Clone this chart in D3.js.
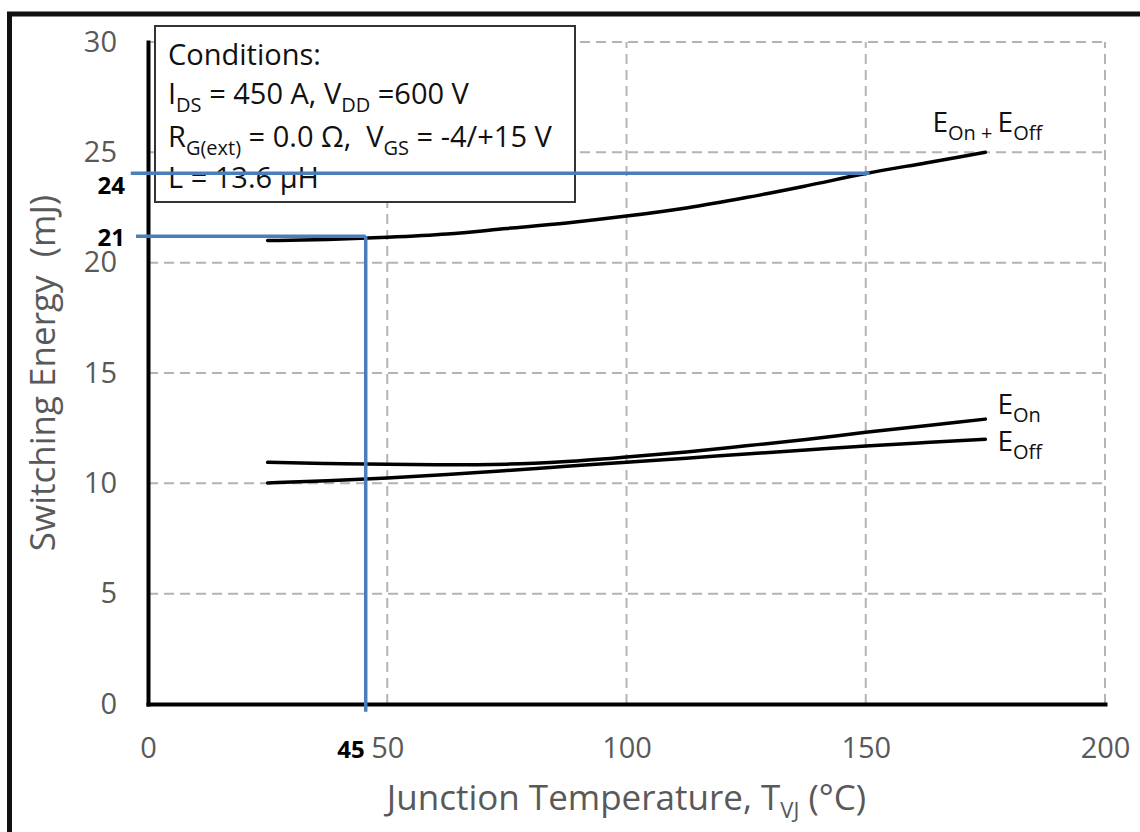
<!DOCTYPE html>
<html><head><meta charset="utf-8">
<script src="https://cdn.jsdelivr.net/npm/d3@7"></script>
<style>
body{margin:0;background:#fff}
svg{display:block}
text{font-family:"Open Sans",sans-serif}
</style></head>
<body><svg id="chart" width="1140" height="832"></svg>
<script>
// ---- data ----
const temps  = [25, 37.5, 50, 62.5, 75, 87.5, 100, 112.5, 125, 137.5, 150, 162.5, 175];
const eOn    = [10.95, 10.90, 10.86, 10.84, 10.87, 10.99, 11.19, 11.42, 11.70, 11.99, 12.31, 12.61, 12.91];
const eOff   = [10.02, 10.12, 10.24, 10.40, 10.58, 10.77, 10.96, 11.14, 11.33, 11.51, 11.69, 11.85, 12.00];
const eTotal = [21.00, 21.05, 21.15, 21.30, 21.55, 21.80, 22.11, 22.48, 22.95, 23.48, 24.04, 24.52, 25.00];
const xTicks = [0, 50, 100, 150, 200];
const yTicks = [0, 5, 10, 15, 20, 25, 30];
const xGrid  = [50, 100, 150, 200];
const yGrid  = [5, 10, 15, 20, 25, 30];
const guideH = [{v: 24.05, from: -3.6, to: 150.8}, {v: 21.2, from: -2.5, to: 45.5}];
const guideV = [{v: 45.5, from: 21.2, to: -0.35}];
const guideLabels = ["24", "21", "45"];

// ---- layout ----
const svg = d3.select("#chart");
const x = d3.scaleLinear().domain([0, 200]).range([148, 1105]);
const y = d3.scaleLinear().domain([0, 30]).range([704, 42]);
const grey = "#595959";

// outer frame
svg.append("rect").attr("x", 9.5).attr("y", 14).attr("width", 1150).attr("height", 840)
  .attr("fill", "none").attr("stroke", "#111").attr("stroke-width", 5);

// grid
const g = svg.append("g").attr("stroke", "#b4b4b4").attr("stroke-width", 2).attr("stroke-dasharray", "10,6");
g.selectAll(".hg").data(yGrid).join("line")
  .attr("x1", x(0)).attr("x2", x(200)).attr("y1", d => y(d)).attr("y2", d => y(d));
g.selectAll(".vg").data(xGrid).join("line")
  .attr("x1", d => x(d)).attr("x2", d => x(d)).attr("y1", y(0)).attr("y2", y(30));

// axes
const ax = svg.append("g").attr("transform", `translate(0,${y(0)})`)
  .call(d3.axisBottom(x).tickValues(xTicks).tickSize(0).tickSizeOuter(0).tickPadding(33));
const ay = svg.append("g").attr("transform", `translate(${x(0)},0)`)
  .call(d3.axisLeft(y).tickValues(yTicks).tickSize(0).tickSizeOuter(0).tickPadding(31));
[ax, ay].forEach(a => {
  a.select(".domain").attr("stroke", "#000").attr("stroke-width", 4).attr("stroke-linecap", "square");
  a.selectAll("text").attr("font-size", 29).attr("fill", grey).attr("font-family", "'Open Sans',sans-serif");
});

// axis titles
const xt = svg.append("text").attr("x", x(100)).attr("y", 810).attr("text-anchor", "middle")
  .attr("font-size", 35).attr("fill", grey);
xt.append("tspan").text("Junction Temperature, T");
xt.append("tspan").attr("font-size", 22).attr("dy", 8).text("VJ");
xt.append("tspan").attr("dy", -8).text(" (°C)");

svg.append("text").attr("transform", `translate(55,${y(15)}) rotate(-90)`)
  .attr("text-anchor", "middle").attr("font-size", 35).attr("fill", grey)
  .style("white-space", "pre").text("Switching Energy  (mJ)");

// conditions box
svg.append("rect").attr("x", 155).attr("y", 26).attr("width", 420).attr("height", 176)
  .attr("fill", "#fff").attr("stroke", "#333").attr("stroke-width", 2);
const cond = [
  [["Conditions:", 0]],
  [["I", 0], ["DS", 1], [" = 450 A, V", 0], ["DD", 1], [" =600 V", 0]],
  [["R", 0], ["G(ext)", 1], [" = 0.0 Ω,  V", 0], ["GS", 1], [" = -4/+15 V", 0]],
  [["L = 13.6 µH", 0]]
];
const condBase = [65, 104, 147, 188];
cond.forEach((parts, i) => {
  const t = svg.append("text").attr("x", 168).attr("y", condBase[i]).attr("font-size", 29)
    .attr("fill", "#111").style("white-space", "pre");
  let prev = 0;
  parts.forEach(([s, sub]) => {
    t.append("tspan").attr("dy", (sub - prev) * 8).attr("font-size", sub ? 20 : 29).text(s);
    prev = sub;
  });
});

// curves
const line = d3.line().x((d, i) => x(temps[i])).y(d => y(d)).curve(d3.curveMonotoneX);
[eTotal, eOn, eOff].forEach(s => {
  svg.append("path").attr("d", line(s)).attr("fill", "none")
    .attr("stroke", "#000").attr("stroke-width", 3.5).attr("stroke-linecap", "round");
});

// series labels
function seriesLabel(px, py, parts) {
  const t = svg.append("text").attr("x", px).attr("y", py).attr("font-size", 28).attr("fill", "#111")
    .style("white-space", "pre");
  let prev = 0;
  parts.forEach(([s, sub]) => {
    t.append("tspan").attr("dy", (sub - prev) * 8).attr("font-size", sub ? 20 : 28).text(s);
    prev = sub;
  });
}
const last = temps.length - 1;
seriesLabel(x(temps[last]) - 53, y(eTotal[last]) - 20, [["E", 0], ["On", 1], [" + ", 1], ["E", 0], ["Off", 1]]);
seriesLabel(x(temps[last]) + 12, y(eOn[last]) - 5, [["E", 0], ["On", 1]]);
seriesLabel(x(temps[last]) + 12, y(eOff[last]) + 12, [["E", 0], ["Off", 1]]);

// reading guides
const blue = "#4a7ebb";
svg.selectAll(".gh").data(guideH).join("line")
  .attr("x1", d => x(d.from)).attr("x2", d => x(d.to)).attr("y1", d => y(d.v)).attr("y2", d => y(d.v))
  .attr("stroke", blue).attr("stroke-width", 3.5);
svg.selectAll(".gv").data(guideV).join("line")
  .attr("x1", d => x(d.v)).attr("x2", d => x(d.v)).attr("y1", d => y(d.from)).attr("y2", d => y(d.to))
  .attr("stroke", blue).attr("stroke-width", 3.5);

const lab = svg.append("g").attr("font-size", 24).attr("font-weight", "bold").attr("fill", "#000")
  .attr("text-anchor", "end");
lab.append("text").attr("x", x(0) - 23).attr("y", y(guideH[0].v) + 21).text(guideLabels[0]);
lab.append("text").attr("x", x(0) - 23).attr("y", y(guideH[1].v) + 10).text(guideLabels[1]);
lab.append("text").attr("x", x(guideV[0].v) - 1).attr("y", 758).text(guideLabels[2]);
</script></body></html>
